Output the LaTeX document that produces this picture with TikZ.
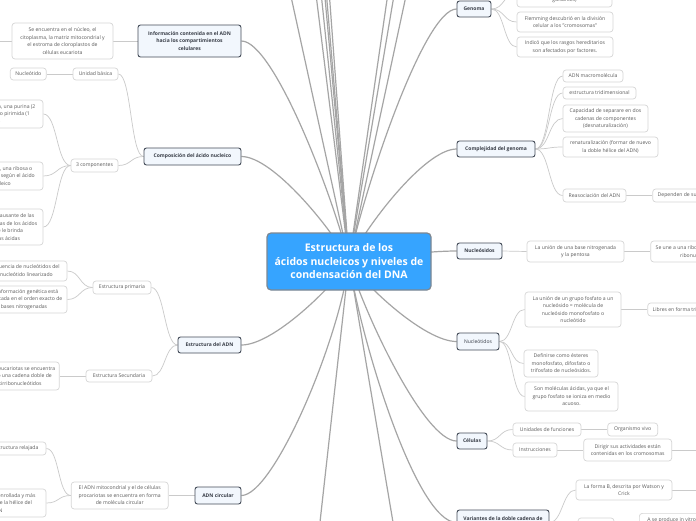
\documentclass[tikz,border=0pt]{standalone}
\usepackage{fontspec}
\setmainfont{Open Sans}
\usetikzlibrary{positioning, backgrounds}

\definecolor{rootblue}{RGB}{54,164,255}
\definecolor{rootedge}{RGB}{125,135,145}
\definecolor{mainfill}{RGB}{242,247,253}
\definecolor{mainedge}{RGB}{68,76,88}
\definecolor{maintext}{RGB}{55,60,70}
\definecolor{leafedge}{RGB}{214,214,214}
\definecolor{leaftext}{RGB}{90,90,90}
\definecolor{linkgray}{RGB}{202,202,202}
\definecolor{rootlinkgray}{RGB}{165,165,165}

\tikzset{
  sz/.style 2 args={minimum width=#1pt, minimum height=#2pt},
  rootbox/.style={draw=rootedge, fill=rootblue, line width=1.2pt, rounded corners=4pt, text=white,
    font=\fontsize{10.5}{13.5}\selectfont\bfseries, align=center, inner sep=0pt},
  mainbox/.style={draw=mainedge, fill=mainfill, line width=0.9pt, rounded corners=2.5pt, text=maintext,
    font=\fontsize{5}{7.5}\selectfont\bfseries, align=center, inner sep=0pt},
  leafbox/.style={draw=leafedge, fill=white, line width=0.7pt, rounded corners=3pt, text=leaftext,
    font=\fontsize{5.1}{7.5}\selectfont, align=center, inner sep=0pt},
  link/.style={draw=linkgray, line width=0.7pt},
  rootlink/.style={draw=rootlinkgray, line width=1.2pt},
}

\begin{document}
\begin{tikzpicture}[x=1pt, y=-1pt]
  \useasboundingbox (0,0) rectangle (696,520);
  \clip (0,0) rectangle (696,520);

  % centro
  \node[rootbox, sz={164}{57}] (root) at (349,261.5)
    {Estructura de los\\ácidos nucleicos y niveles de\\condensación del DNA};

  % lado izquierdo
  \node[mainbox, sz={103}{32}] (info) at (189.5,41)
    {Información contenida en el ADN\\hacia los compartimientos\\celulares};
  \node[leafbox, sz={101}{36}] (nucleo) at (62.5,41)
    {Se encuentra en el núcleo, el\\citoplasma, la matriz mitocondrial y\\el estroma de cloroplastos de\\células eucariota};
  \coordinate (nucleoout) at (-20,41);

  \node[mainbox, sz={97}{17}] (compo) at (192.5,156.5) {Composición del ácido nucleico};
  \node[leafbox, sz={45}{12}] (unidad) at (95.5,74) {Unidad básica};
  \node[leafbox, sz={36}{12}, left=26pt of unidad] (nucleotido) {Nucleótido};
  \node[leafbox, sz={47}{13}] (trescomp) at (94.5,165.5) {3 componentes};
  \node[leafbox, sz={102}{28}] (base) at (-8,114)
    {Una base nitrogenada, una purina (2\\anillos fusionados) o pirimida (1\\anillos)};
  \node[leafbox, sz={84}{28}] (pentosa) at (1,176)
    {Una pentosa, una ribosa o\\desoxirribosa según el ácido\\nucleico};
  \node[leafbox, sz={96}{36}] (fosfato) at (-5,227)
    {Un grupo fosfato causante de las\\propiedades químicas de los ácidos\\nucleicos, que le brinda\\características ácidas};

  \node[mainbox, sz={63}{16}] (estr) at (209.5,345) {Estructura del ADN};
  \node[leafbox, sz={58}{13}] (prim) at (122,287.5) {Estructura primaria};
  \node[leafbox, sz={90}{20}] (secuencia) at (22,271)
    {La secuencia de nucleótidos del\\polinucleótido linearizado};
  \node[leafbox, sz={86}{27}] (infogen) at (24,299.5)
    {La información genética está\\codificada en el orden exacto de\\bases nitrogenadas};
  \node[leafbox, sz={66}{12}] (secund) at (119,376) {Estructura Secundaria};
  \node[leafbox, sz={90}{28}, left=26pt of secund] (eucar)
    {En células eucariotas se encuentra\\formando una cadena doble de\\desoxirribonucleótidos};

  \node[mainbox, sz={46}{17}] (circ) at (218,495.5) {ADN circular};
  \node[leafbox, sz={97}{27}, left=26pt of circ] (circdesc)
    {El ADN mitocondrial y el de células\\procariotas se encuentra en forma\\de molécula circular};
  \node[leafbox, sz={60}{13}] (relajada) at (16,448.5) {Estructura relajada};
  \node[leafbox, sz={98}{28}] (superen) at (-3,503)
    {Estructura superenrollada y más\\compactación de la hélice del\\ADN};

  % lado derecho
  \node[mainbox, sz={34}{16}] (genoma) at (474,9) {Genoma};
  \node[leafbox, sz={95}{28}] (mendel) at (564.5,-7)
    {Mendel realizó experimentos con\\plantas de chícharos (arvejas o\\guisantes)};
  \node[leafbox, sz={96}{20}] (flemming) at (565,22)
    {Flemming descubrió en la división\\celular a los "cromosomas"};
  \node[leafbox, sz={96}{20}] (rasgos) at (565,47)
    {Indicó que los rasgos hereditarios\\son afectados por factores.};

  \node[mainbox, sz={78}{16}] (complej) at (496,149) {Complejidad del genoma};
  \node[leafbox, sz={60}{12}] (macro) at (593,76) {ADN macromolécula};
  \node[leafbox, sz={73}{12}] (tridim) at (599.5,93) {estructura tridimensional};
  \node[leafbox, sz={85}{27}] (desnat) at (605.5,118.5)
    {Capacidad de separare en dos\\cadenas de componentes\\(desnaturalización)};
  \node[leafbox, sz={95}{20}] (renat) at (610.5,147)
    {renaturalización (formar de nuevo\\la doble hélice del ADN)};
  \node[leafbox, sz={63}{13}] (reasoc) at (594.5,195.5) {Reasociación del ADN};
  \node[leafbox, minimum height=13pt, inner xsep=5pt, right=26pt of reasoc] (depend)
    {Dependen de su secuencia};

  \node[mainbox, sz={45}{16}] (nucleos) at (479.5,251) {Nucleósidos};
  \node[leafbox, sz={97}{21}] (union) at (575.5,251.5)
    {La unión de una base nitrogenada\\y la pentosa};
  \node[leafbox, minimum height=21pt, inner xsep=5pt, right=26pt of union] (ribosa)
    {Se une a una ribosa para formar un\\ribonucleósido};

  \node[mainbox, font=\fontsize{5}{7.5}\selectfont, sz={42}{17}] (nucleot) at (478,341.5) {Nucleótidos};
  \node[leafbox, sz={96}{35}] (fosfuni) at (573,309.5)
    {La unión de un grupo fosfato a un\\nucleósido = molécula de\\nucleósido monofosfato o\\nucleótido};
  \node[leafbox, minimum height=13pt, inner xsep=5pt, right=26pt of fosfuni] (libres)
    {Libres en forma trifosfato};
  \node[leafbox, sz={74}{27}] (esteres) at (561,363.5)
    {Definirse como ésteres\\monofosfato, difosfato o\\trifosfato de nucleósidos.};
  \node[leafbox, sz={93}{29}] (acidas) at (571.5,396.5)
    {Son moléculas ácidas, ya que el\\grupo fosfato se ioniza en medio\\acuoso.};

  \node[mainbox, sz={30}{16}] (celulas) at (472,441) {Células};
  \node[leafbox, sz={68}{13}] (unidades) at (547,429.5) {Unidades de funciones};
  \node[leafbox, sz={50}{13}, right=26pt of unidades] (organismo) {Organismo vivo};
  \node[leafbox, sz={44}{14}] (instr) at (535,450) {Instrucciones};
  \node[leafbox, sz={88}{22}, right=26pt of instr] (dirigir)
    {Dirigir sus actividades están\\contenidas en los cromosomas};
  \coordinate (dirigirout) at (720,450);

  \node[mainbox, sz={92}{25}] (variantes) at (503,522.5) {Variantes de la doble cadena de\\ADN};
  \node[leafbox, sz={96}{20}] (formab) at (624,490) {La forma B, descrita por Watson y\\Crick};
  \coordinate (formabout) at (720,490);
  \node[leafbox, sz={36}{13}] (formaa) at (596,524.5) {Forma A};
  \node[leafbox, anchor=north west, minimum height=20pt, inner xsep=8pt] (invitro) at (639,513)
    {A se produce in vitro con baja\\humedad relativa};

  % ramas lejanas (fuera del recorte)
  \foreach \x [count=\i] in {248,292,301,307,310,315,416,427,448}
    \coordinate (up\i) at (\x,-200);
  \coordinate (down1) at (318,540);
  \coordinate (down2) at (396,540);

  \begin{scope}[on background layer]
    \fill[white] (0,0) rectangle (696,520);
    \clip (0,0) rectangle (696,520);
    \foreach \i in {1,...,9}
      \draw[rootlink] (root.center) -- (up\i);
    \draw[rootlink] (root.center) -- (down1);
    \draw[rootlink] (root.center) -- (down2);

    \draw[rootlink] (root.center) .. controls +(-16,-66) and +(32,0) .. (info.east);
    \draw[rootlink] (root.center) .. controls +(-16,-31) and +(32,0) .. (compo.east);
    \draw[rootlink] (root.center) .. controls +(-16,25) and +(32,0) .. (estr.east);
    \draw[rootlink] (root.center) .. controls +(-10,80) and +(32,0) .. (circ.east);
    \draw[rootlink] (root.center) .. controls +(16,-76) and +(-32,0) .. (genoma.west);
    \draw[rootlink] (root.center) .. controls +(16,-34) and +(-32,0) .. (complej.west);
    \draw[rootlink] (root.center) .. controls +(16,-3) and +(-32,0) .. (nucleos.west);
    \draw[rootlink] (root.center) .. controls +(16,24) and +(-32,0) .. (nucleot.west);
    \draw[rootlink] (root.center) .. controls +(16,54) and +(-32,0) .. (celulas.west);
    \draw[rootlink] (root.center) .. controls +(12,80) and +(-40,0) .. (variantes.west);

    \draw[link] (info.west) -- (nucleo.east);
    \draw[link] (nucleo.west) -- (nucleoout);
    \draw[link] (compo.west) .. controls +(-13,0) and +(13,0) .. (unidad.east);
    \draw[link] (compo.west) .. controls +(-13,0) and +(13,0) .. (trescomp.east);
    \draw[link] (unidad.west) -- (nucleotido.east);
    \foreach \n in {base,pentosa,fosfato}
      \draw[link] (trescomp.west) .. controls +(-14,0) and +(14,0) .. (\n.east);
    \draw[link] (estr.west) .. controls +(-13,0) and +(13,0) .. (prim.east);
    \draw[link] (estr.west) .. controls +(-13,0) and +(13,0) .. (secund.east);
    \draw[link] (prim.west) .. controls +(-13,0) and +(13,0) .. (secuencia.east);
    \draw[link] (prim.west) .. controls +(-13,0) and +(13,0) .. (infogen.east);
    \draw[link] (secund.west) -- (eucar.east);
    \draw[link] (circ.west) -- (circdesc.east);
    \draw[link] (circdesc.west) .. controls +(-13,0) and +(13,0) .. (relajada.east);
    \draw[link] (circdesc.west) .. controls +(-13,0) and +(13,0) .. (superen.east);

    \foreach \n in {mendel,flemming,rasgos}
      \draw[link] (genoma.east) .. controls +(13,0) and +(-13,0) .. (\n.west);
    \foreach \n in {macro,tridim,desnat,renat,reasoc}
      \draw[link] (complej.east) .. controls +(14,0) and +(-14,0) .. (\n.west);
    \draw[link] (reasoc.east) -- (depend.west);
    \draw[link] (nucleos.east) -- (union.west);
    \draw[link] (union.east) -- (ribosa.west);
    \foreach \n in {fosfuni,esteres,acidas}
      \draw[link] (nucleot.east) .. controls +(13,0) and +(-13,0) .. (\n.west);
    \draw[link] (fosfuni.east) -- (libres.west);
    \draw[link] (celulas.east) .. controls +(13,0) and +(-13,0) .. (unidades.west);
    \draw[link] (celulas.east) .. controls +(13,0) and +(-13,0) .. (instr.west);
    \draw[link] (unidades.east) -- (organismo.west);
    \draw[link] (instr.east) -- (dirigir.west);
    \draw[link] (dirigir.east) -- (dirigirout);
    \draw[link] (variantes.east) .. controls +(13,0) and +(-13,0) .. (formab.west);
    \draw[link] (variantes.east) .. controls +(13,0) and +(-13,0) .. (formaa.west);
    \draw[link] (formab.east) -- (formabout);
    \draw[link] (formaa.east) .. controls +(12,0) and +(-12,0) .. (invitro.west);
  \end{scope}
\end{tikzpicture}
\end{document}
